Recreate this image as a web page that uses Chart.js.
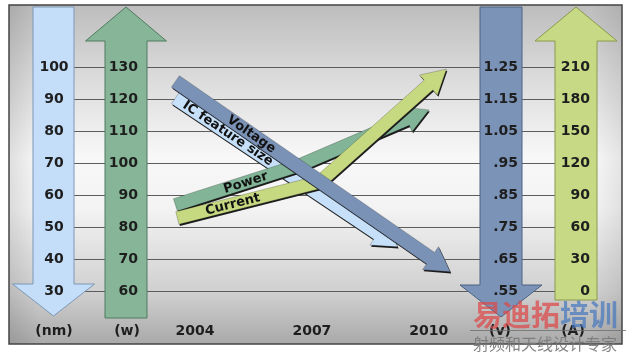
<!DOCTYPE html>
<html lang="en">
<head>
<meta charset="utf-8">
<title>IC trends</title>
<script src="https://cdn.jsdelivr.net/npm/chart.js"></script>
<style>
  html, body { margin: 0; padding: 0; background: #fff; }
  .wrap { width: 626px; height: 353px; position: relative; }
</style>
</head>
<body>
<div class="wrap"><canvas id="trend"></canvas></div>
<script>
// tick labels for the four scales and the years
const years = [2004, 2007, 2010];
const nmTicks = [100, 90, 80, 70, 60, 50, 40, 30];
const wTicks = [130, 120, 110, 100, 90, 80, 70, 60];
const vTicks = ['1.25', '1.15', '1.05', '.95', '.85', '.75', '.65', '.55'];
const aTicks = [210, 180, 150, 120, 90, 60, 30, 0];
const units = ['(nm)', '(w)', '(v)', '(A)'];

// trend arrows: start, bend(s), arrow tip
const seriesNames = ['IC feature size', 'Power', 'Current', 'Voltage'];
const featureYears = [2003.5, 2009.2];
const featureValues = [90.3, 43.8];
const powerYears = [2003.5, 2006.7, 2010.0];
const powerValues = [86.9, 99.4, 116.6];
const currentYears = [2003.55, 2007.2, 2010.45];
const currentValues = [68.4, 102.2, 208];
const voltageYears = [2003.5, 2010.55];
const voltageValues = [1.205, 0.61];

const FONT = '"DejaVu Sans", Verdana, sans-serif';

function pts(xs, ys) {
    return xs.map((x, i) => ({ x: x, y: ys[i] }));
}

// big scale arrows behind the numbers
const scaleArrows = [
    { cx: 53.5, sw: 20.5, hw: 41, tail: 7, base: 284, tip: 316, fill: '#c4defa', line: '#7d97b5' },
    { cx: 126, sw: 21, hw: 40.5, tail: 318, base: 41, tip: 7, fill: '#86b697', line: '#4f7a5f' },
    { cx: 501, sw: 21, hw: 41, tail: 7, base: 285, tip: 317, fill: '#7b93b7', line: '#4d6283' },
    { cx: 576, sw: 21, hw: 41, tail: 300, base: 41, tip: 7, fill: '#c7d985', line: '#8a9a4a' }
];

function bigArrow(ctx, a) {
    ctx.beginPath();
    ctx.moveTo(a.cx - a.sw, a.tail);
    ctx.lineTo(a.cx - a.sw, a.base);
    ctx.lineTo(a.cx - a.hw, a.base);
    ctx.lineTo(a.cx, a.tip);
    ctx.lineTo(a.cx + a.hw, a.base);
    ctx.lineTo(a.cx + a.sw, a.base);
    ctx.lineTo(a.cx + a.sw, a.tail);
    ctx.closePath();
    ctx.fillStyle = a.fill;
    ctx.fill();
    ctx.strokeStyle = a.line;
    ctx.lineWidth = 1;
    ctx.stroke();
}

// ribbon shaped arrow along the dataset points, last point is the tip
function ribbon(points, hw, headLen, headHw) {
    const n = points.length;
    const tip = points[n - 1], prev = points[n - 2];
    let dx = tip.x - prev.x, dy = tip.y - prev.y;
    const len = Math.hypot(dx, dy);
    dx /= len; dy /= len;
    const base = { x: tip.x - dx * headLen, y: tip.y - dy * headLen };
    const line = points.slice(0, n - 1).concat([base]);
    const normals = [];
    for (let i = 0; i < line.length - 1; i++) {
        const ex = line[i + 1].x - line[i].x, ey = line[i + 1].y - line[i].y;
        const l = Math.hypot(ex, ey);
        normals.push({ x: -ey / l, y: ex / l });
    }
    const left = [], right = [];
    line.forEach((p, i) => {
        let nx, ny, k = 1;
        if (i === 0) { nx = normals[0].x; ny = normals[0].y; }
        else if (i === line.length - 1) { nx = normals[i - 1].x; ny = normals[i - 1].y; }
        else {
            nx = normals[i - 1].x + normals[i].x;
            ny = normals[i - 1].y + normals[i].y;
            const l = Math.hypot(nx, ny);
            nx /= l; ny /= l;
            k = 1 / (nx * normals[i].x + ny * normals[i].y);
        }
        left.push({ x: p.x + nx * hw * k, y: p.y + ny * hw * k });
        right.push({ x: p.x - nx * hw * k, y: p.y - ny * hw * k });
    });
    const hn = normals[normals.length - 1];
    const poly = left.slice();
    poly.push({ x: base.x + hn.x * headHw, y: base.y + hn.y * headHw });
    poly.push({ x: tip.x, y: tip.y });
    poly.push({ x: base.x - hn.x * headHw, y: base.y - hn.y * headHw });
    return poly.concat(right.reverse());
}

function fillPoly(ctx, poly, ox, oy) {
    ctx.beginPath();
    poly.forEach((p, i) => i ? ctx.lineTo(p.x + ox, p.y + oy) : ctx.moveTo(p.x + ox, p.y + oy));
    ctx.closePath();
}

function labelAlong(ctx, points, px, text) {
    let i = 0;
    while (i < points.length - 2 && points[i + 1].x < px) i++;
    const a = points[i], b = points[i + 1];
    const t = (px - a.x) / (b.x - a.x);
    const y = a.y + (b.y - a.y) * t;
    ctx.save();
    ctx.translate(px, y);
    ctx.rotate(Math.atan2(b.y - a.y, b.x - a.x));
    ctx.font = 'bold 13px ' + FONT;
    ctx.fillStyle = '#111';
    ctx.textAlign = 'center';
    ctx.textBaseline = 'middle';
    ctx.fillText(text, 0, 0.5);
    ctx.restore();
}

const ribbonStyle = [
    { fill: '#c6e0f9', hw: 7, labelYear: 2004.85 },
    { fill: '#82b597', hw: 6.5, labelYear: 2005.3 },
    { fill: '#c6d880', hw: 6.5, labelYear: 2004.97 },
    { fill: '#7a92b6', hw: 7, labelYear: 2005.45 }
];

const decor = {
    id: 'decor',
    beforeDraw(chart) {
        const ctx = chart.ctx;
        ctx.save();
        ctx.fillStyle = '#fff';
        ctx.fillRect(0, 0, chart.width, chart.height);
        const g = ctx.createLinearGradient(0, 5, 0, 344);
        g.addColorStop(0, '#bdbdbd');
        g.addColorStop(0.2, '#d9d9d9');
        g.addColorStop(0.45, '#f8f8f8');
        g.addColorStop(0.6, '#f3f3f3');
        g.addColorStop(0.85, '#cfcfcf');
        g.addColorStop(1, '#a9a9a9');
        ctx.fillStyle = g;
        ctx.fillRect(9, 5, 613, 339);
        const h = ctx.createLinearGradient(9, 0, 622, 0);
        h.addColorStop(0, 'rgba(0,0,0,0.10)');
        h.addColorStop(0.05, 'rgba(0,0,0,0)');
        h.addColorStop(0.95, 'rgba(0,0,0,0)');
        h.addColorStop(1, 'rgba(0,0,0,0.08)');
        ctx.fillStyle = h;
        ctx.fillRect(9, 5, 613, 339);
        ctx.strokeStyle = '#444';
        ctx.lineWidth = 1.5;
        ctx.strokeRect(9, 5, 613, 339);
        ctx.restore();
    },
    beforeDatasetsDraw(chart) {
        const ctx = chart.ctx;
        ctx.save();
        scaleArrows.forEach(a => bigArrow(ctx, a));
        ctx.restore();
    },
    afterDatasetsDraw(chart) {
        const ctx = chart.ctx;
        const xs = chart.scales.x;
        ctx.save();
        // trend ribbons
        chart.data.datasets.forEach((ds, i) => {
            const p = chart.getDatasetMeta(i).data.map(e => ({ x: e.x, y: e.y }));
            const st = ribbonStyle[i];
            const poly = ribbon(p, st.hw, 24, st.hw + 7);
            fillPoly(ctx, poly, 1, 1.6);
            ctx.fillStyle = '#1c1c1c';
            ctx.fill();
            fillPoly(ctx, poly, 0, 0);
            ctx.fillStyle = st.fill;
            ctx.fill();
            ctx.strokeStyle = 'rgba(0,0,0,0.3)';
            ctx.lineWidth = 0.7;
            ctx.stroke();
            labelAlong(ctx, p, xs.getPixelForValue(st.labelYear), ds.label);
        });

        // scale numbers
        ctx.font = 'bold 14px ' + FONT;
        ctx.fillStyle = '#1e1e1e';
        ctx.textBaseline = 'middle';
        const put = (scale, ticks, x, align) => {
            ctx.textAlign = align;
            ticks.forEach(t => ctx.fillText(String(t), x, chart.scales[scale].getPixelForValue(parseFloat(t))));
        };
        put('nm', nmTicks, 54, 'center');
        put('w', wTicks, 138, 'right');
        put('v', vTicks, 518, 'right');
        put('a', aTicks, 590, 'right');

        // bottom row
        ctx.textAlign = 'center';
        years.forEach(y => ctx.fillText(String(y), xs.getPixelForValue(y), 331));
        [54, 127, 500, 573].forEach((x, i) => ctx.fillText(units[i], x, 331));

        // watermark
        ctx.textAlign = 'left';
        ctx.textBaseline = 'alphabetic';
        ctx.font = 'bold 29px "Noto Sans CJK SC"';
        ctx.fillStyle = 'rgba(222,70,70,0.72)';
        ctx.fillText('易迪拓', 473, 326);
        ctx.fillStyle = 'rgba(70,120,190,0.72)';
        ctx.fillText('培训', 473 + 87, 326);
        ctx.strokeStyle = 'rgba(110,110,110,0.8)';
        ctx.lineWidth = 1;
        ctx.beginPath();
        ctx.moveTo(470, 330.5);
        ctx.lineTo(626, 330.5);
        ctx.stroke();
        ctx.font = '16px "Noto Sans CJK SC"';
        ctx.fillStyle = 'rgba(120,120,120,0.9)';
        ctx.fillText('射频和天线设计专家', 473, 350);
        ctx.restore();
    }
};

const ctx = document.getElementById('trend').getContext('2d');
new Chart(ctx, {
    type: 'line',
    data: {
        datasets: [
            { label: seriesNames[0], data: pts(featureYears, featureValues), yAxisID: 'nm' },
            { label: seriesNames[1], data: pts(powerYears, powerValues), yAxisID: 'w' },
            { label: seriesNames[2], data: pts(currentYears, currentValues), yAxisID: 'a' },
            { label: seriesNames[3], data: pts(voltageYears, voltageValues), yAxisID: 'v' }
        ].map(d => Object.assign(d, { showLine: false, pointRadius: 0 }))
    },
    options: {
        responsive: true,
        maintainAspectRatio: false,
        animation: false,
        devicePixelRatio: 1,
        layout: { padding: { left: 60, right: 56, top: 67, bottom: 62 } },
        plugins: { legend: { display: false }, tooltip: { enabled: false } },
        scales: {
            x: { type: 'linear', min: 2000.54, max: 2013.62, display: false },
            nm: {
                position: 'left', min: 30, max: 100,
                ticks: { display: false, stepSize: 10 },
                grid: { color: '#5c5c5c', lineWidth: 1, drawTicks: false },
                border: { display: false }
            },
            w: { display: false, min: 60, max: 130 },
            v: { display: false, min: 0.55, max: 1.25 },
            a: { display: false, min: 0, max: 210 }
        }
    },
    plugins: [decor]
});
</script>
</body>
</html>
